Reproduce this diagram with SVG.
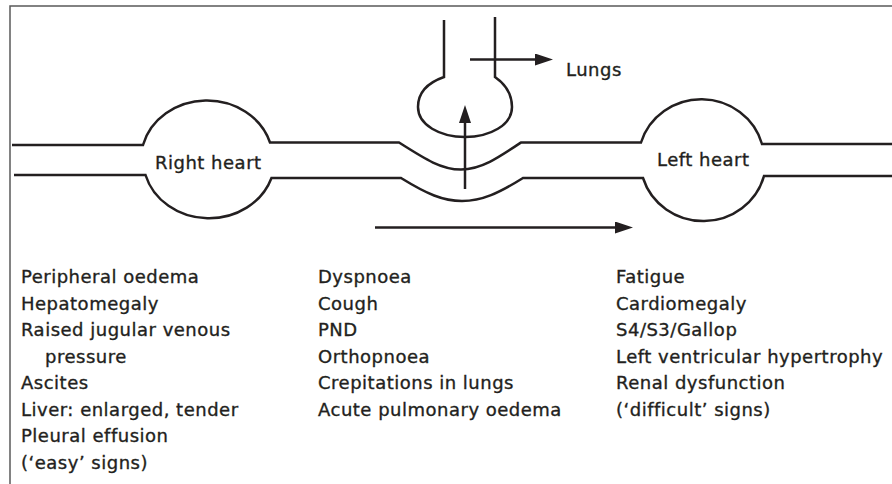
<svg xmlns="http://www.w3.org/2000/svg" width="892" height="484" viewBox="0 0 892 484">
  <style>
    .frame { fill: none; stroke: #5a5a5a; stroke-width: 1.5; }
    .vessel { fill: none; stroke: #231f20; stroke-width: 2.5; stroke-linejoin: miter; }
    .arrow { fill: none; stroke: #231f20; stroke-width: 2.5; marker-end: url(#head); }
    text { font-family: "DejaVu Sans", "Liberation Sans", sans-serif; font-size: 18px; letter-spacing: 0.5px; fill: #231f20; stroke: #231f20; stroke-width: 0.35px; }
  </style>
  <defs>
    <marker id="head" markerUnits="userSpaceOnUse" markerWidth="18" markerHeight="12" refX="4" refY="6" orient="auto" viewBox="0 0 18 12">
      <path d="M0,0 L18,6 L0,12 z" fill="#231f20"/>
    </marker>
  </defs>

  <rect width="892" height="484" fill="#ffffff"/>
  <path class="frame" d="M10,484 V6 H892"/>

  <g id="vessels">
    <path class="vessel" d="M12,145 H143 A66,59.5 0 0 1 270,142.5 H399 C425,159 441,169.5 461,169.5 C481,169.5 498,158 521,142.5 H641 A63,61 0 0 1 762,144 H892"/>
    <path class="vessel" d="M14,175 H145.5 A66,59.5 0 0 0 271.5,178 H401 C427,194 443,201 462,201 C482,201 499,193 523,178 H643 A63,61 0 0 0 764,176 H892"/>
    <path class="vessel" d="M444,20 V77 C424,84 418,96 418,107 C418,125 440,137 465,137 C490,137 512,125 512,107 C512,94 505,84 495,77 V17"/>
  </g>

  <g id="right-heart">
    <text x="155" y="168.5">Right heart</text>
  </g>
  <g id="left-heart">
    <text x="657" y="166">Left heart</text>
  </g>
  <g id="lungs">
    <text x="566" y="76">Lungs</text>
  </g>

  <g id="connectors">
    <line class="arrow" x1="470" y1="59.5" x2="539" y2="59.5"/>
    <line class="arrow" x1="465" y1="189" x2="465" y2="119"/>
    <line class="arrow" x1="375" y1="227.5" x2="619" y2="227.5"/>
  </g>

  <g id="right-signs">
    <text x="21" y="283">Peripheral oedema</text>
    <text x="21" y="309.5">Hepatomegaly</text>
    <text x="21" y="336">Raised jugular venous</text>
    <text x="45" y="362.5">pressure</text>
    <text x="21" y="389">Ascites</text>
    <text x="21" y="415.5">Liver: enlarged, tender</text>
    <text x="21" y="442">Pleural effusion</text>
    <text x="21" y="468.5">(‘easy’ signs)</text>
  </g>

  <g id="lung-signs">
    <text x="318" y="283">Dyspnoea</text>
    <text x="318" y="309.5">Cough</text>
    <text x="318" y="336">PND</text>
    <text x="318" y="362.5">Orthopnoea</text>
    <text x="318" y="389">Crepitations in lungs</text>
    <text x="318" y="415.5">Acute pulmonary oedema</text>
  </g>

  <g id="left-signs">
    <text x="616" y="283">Fatigue</text>
    <text x="616" y="309.5">Cardiomegaly</text>
    <text x="616" y="336">S4/S3/Gallop</text>
    <text x="616" y="362.5">Left ventricular hypertrophy</text>
    <text x="616" y="389">Renal dysfunction</text>
    <text x="616" y="415.5">(‘difficult’ signs)</text>
  </g>
</svg>
